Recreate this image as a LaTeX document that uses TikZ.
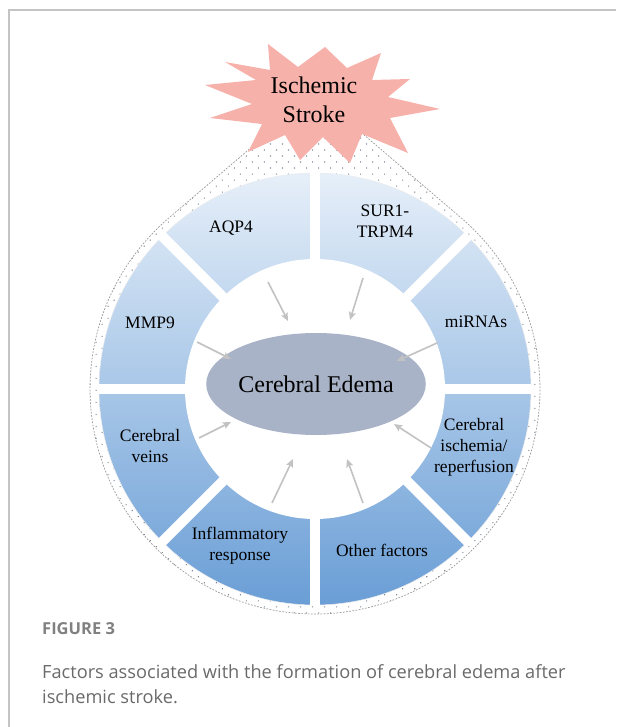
\documentclass[tikz,border=0pt]{standalone}
\usepackage{fontspec}
\setmainfont{Liberation Serif}
\newfontfamily\capfont{Open Sans}
\usetikzlibrary{arrows.meta,patterns.meta,shapes.geometric}

\definecolor{framegray}{HTML}{C4C4C4}
\definecolor{starpink}{HTML}{F7B1AB}
\definecolor{ringtop}{HTML}{E6EFF9}
\definecolor{ringmid}{HTML}{8EB7E1}
\definecolor{ringbot}{HTML}{6A9ED6}
\definecolor{edemafill}{HTML}{A9B3C7}
\definecolor{arrowgray}{HTML}{C2C2C2}
\definecolor{captiongray}{HTML}{6A6A6A}
\definecolor{dotgray}{HTML}{4E5C72}

\tikzset{
  seglabel/.style={font=\fontsize{17.5}{21}\selectfont, align=center, inner sep=0pt},
  flow/.style={draw=arrowgray, line width=1.6pt, -{Stealth[length=8pt,width=7pt,inset=1.5pt]}},
  gapline/.style={draw=white, line width=10pt},
  capline/.style={font=\capfont\fontsize{18.2}{22}\selectfont, text=captiongray, anchor=base west, inner sep=0pt},
}

\begin{document}
\begin{tikzpicture}[x=1pt,y=-1pt]
\useasboundingbox (0,0) rectangle (616,727);

% outer frame (open at right and bottom)
\draw[framegray, line width=1.3pt] (9,727) -- (9,10) -- (616,10);

% centre of the wheel and the drop-shaped halo
\coordinate (C) at (315,389);
\coordinate (apex) at (315,93);
\path (C) ++(-49.47:225) coordinate (tR);
\path (C) ++(229.47:225) coordinate (tL);
\path[fill=white, pattern={Dots[distance=8.5pt, radius=0.75pt, angle=45]}, pattern color=dotgray!75]
  (apex) -- (tR) arc[start angle=-49.47, end angle=229.47, radius=225] -- cycle;
\draw[gray!80, line width=0.7pt, dash pattern=on 1.8pt off 1.4pt]
  (apex) -- (tR) arc[start angle=-49.47, end angle=229.47, radius=225] -- cycle;

% blue ring
\shade[top color=ringtop, middle color=ringmid, bottom color=ringbot] (C) circle[radius=216];
\draw[white!85!gray, line width=0.5pt] (C) circle[radius=216];

% white separators between the eight sectors
\foreach \a [count=\i] in {0,45,90,135}{
  \path (C) ++(\a:217) coordinate (g\i a);
  \path (C) ++(\a:-217) coordinate (g\i b);
  \draw[gapline] (g\i a) -- (g\i b);
}

% inner white disc
\fill[white] (C) circle[radius=130];

% central ellipse
\node[fill=edemafill, ellipse, minimum width=178pt, minimum height=102pt, inner sep=0pt,
      font=\fontsize{24}{28}\selectfont] (edema) at (316,384) {Cerebral Edema};

% the star
\fill[starpink] (268,44) -- (298,67) -- (325,47) -- (347,68) -- (381,53) -- (372,80)
  -- (410,79) -- (388,97) -- (440,109) -- (390,118) -- (408,153) -- (362,134)
  -- (350,163) -- (323,137) -- (300,160) -- (285,135) -- (248,152) -- (262,124)
  -- (210,118) -- (252,104) -- (205,85) -- (256,80) -- (225,62) -- (270,70) -- cycle;
\node[font=\fontsize{24}{29}\selectfont, align=center, inner sep=0pt] (stroke) at (314,100) {Ischemic\\Stroke};

% sector labels
\node[seglabel] (aqp) at (231,228) {AQP4};
\node[seglabel] (sur) at (385,221) {SUR1-\\TRPM4};
\node[seglabel] (mir) at (476,322) {miRNAs};
\node[seglabel] (isch) at (474,447) {Cerebral\\ischemia/\\reperfusion};
\node[seglabel] (other) at (382,550) {Other factors};
\node[seglabel] (inflam) at (240,546) {Inflammatory\\response};
\node[seglabel] (veins) at (150,446) {Cerebral\\veins};
\node[seglabel] (mmp) at (150,323) {MMP9};

% arrows towards the ellipse
\coordinate (s1) at (268,282); \coordinate (e1) at (288,321);
\coordinate (s2) at (363,278); \coordinate (e2) at (350,320);
\coordinate (s3) at (437,343); \coordinate (e3) at (397,361);
\coordinate (s4) at (197,342); \coordinate (e4) at (231,359);
\coordinate (s5) at (199,438); \coordinate (e5) at (231,422);
\coordinate (s6) at (431,448); \coordinate (e6) at (394,424);
\coordinate (s7) at (272,503); \coordinate (e7) at (293,459);
\coordinate (s8) at (363,503); \coordinate (e8) at (347,459);
\foreach \i in {1,...,8}{ \draw[flow] (s\i) -- (e\i); }

% caption
\node[capline, font=\capfont\bfseries\fontsize{16.5}{20}\selectfont, text=captiongray!85] (fig) at (42,634) {FIGURE 3};
\node[capline] (cap1) at (42,678) {Factors associated with the formation of cerebral edema after};
\node[capline] (cap2) at (42,703) {ischemic stroke.};
\end{tikzpicture}
\end{document}
